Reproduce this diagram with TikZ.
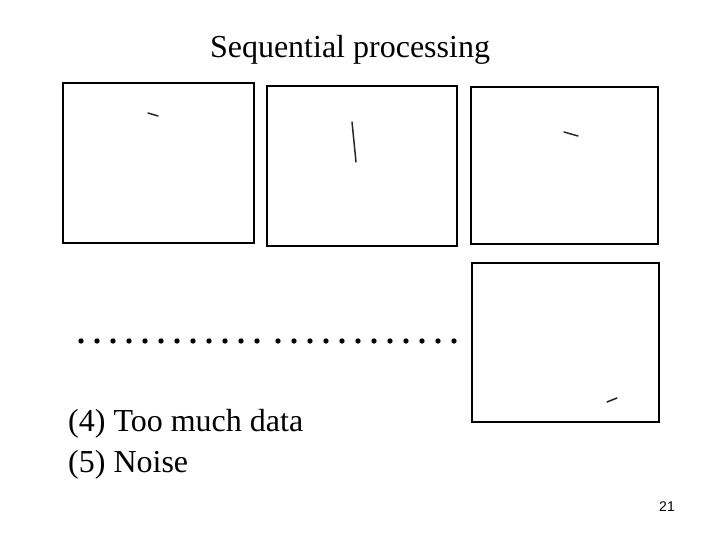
\documentclass[tikz,border=0pt]{standalone}
\usepackage{fontspec}
\setmainfont{Liberation Serif}
\newfontfamily\numfont{Liberation Sans}
\begin{document}
\begin{tikzpicture}[x=1pt,y=-1pt,
  frame/.style={draw=black,line width=2.4pt},
  stroke/.style={draw=black!85,line width=1.5pt,line cap=round},
  dotmark/.style={fill=black,draw=none},
  bigtext/.style={font=\fontsize{32}{38}\selectfont,inner sep=0pt,anchor=base west}]
\useasboundingbox[fill=white] (0,0) rectangle (720,540);
\node[bigtext,anchor=base] (title) at (350,58) {Sequential processing};
\draw[frame] (63,83) rectangle (254,243);
\draw[frame] (267,86) rectangle (457,246);
\draw[frame] (471,87) rectangle (658,244);
\draw[frame] (472,263) rectangle (659,422);
\draw[stroke] (148,113) -- (158,116);
\draw[stroke] (352,122) -- (356,162);
\draw[stroke] (564,132) -- (578,136);
\draw[stroke] (607,402) -- (617,398);
\foreach \i in {0,...,11} {
  \fill[dotmark] (81+16*\i,341) circle (2.7);
  \fill[dotmark] (278+16*\i,341) circle (2.7);
}
\node[bigtext] (l4) at (68,431) {(4) Too much data};
\node[bigtext] (l5) at (68,472) {(5) Noise};
\node[font=\numfont\fontsize{14}{16}\selectfont,inner sep=0pt,anchor=base] (pg) at (667,511) {21};
\end{tikzpicture}
\end{document}
